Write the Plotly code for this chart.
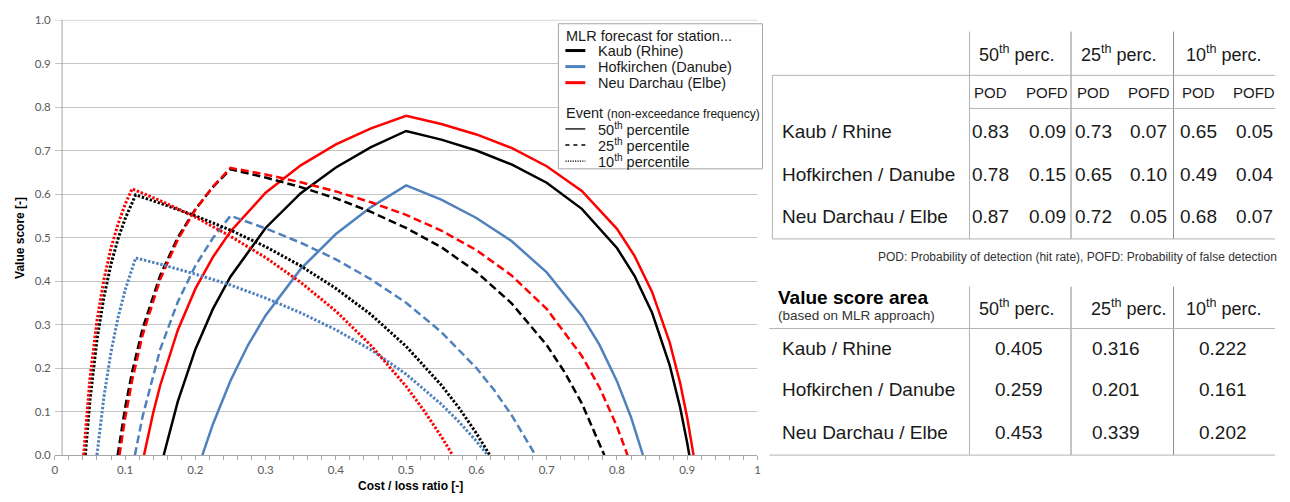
import plotly.graph_objects as go

W, H = 1290, 502          # browser window
OFF = 8                   # default page (body) margin of the html page
FW, FH = W - OFF, H - OFF # figure size so that it fits exactly in the window

# ---------------- curve data (cost/loss ratio, value score) ----------------
alpha_kaub_50 = [0.155, 0.175, 0.2, 0.225, 0.25, 0.3, 0.35, 0.4, 0.45, 0.5, 0.55, 0.6, 0.65, 0.7, 0.75, 0.8, 0.825, 0.85, 0.875, 0.89, 0.9, 0.903]
value_kaub_50 = [0.0, 0.123, 0.243, 0.336, 0.410, 0.522, 0.602, 0.661, 0.708, 0.745, 0.725, 0.700, 0.668, 0.626, 0.566, 0.476, 0.412, 0.327, 0.207, 0.109, 0.028, 0.0]

alpha_hof_50 = [0.21, 0.225, 0.25, 0.275, 0.3, 0.35, 0.4, 0.45, 0.5, 0.55, 0.6, 0.65, 0.7, 0.75, 0.775, 0.8, 0.82, 0.837]
value_hof_50 = [0.0, 0.071, 0.171, 0.253, 0.321, 0.428, 0.508, 0.570, 0.620, 0.587, 0.545, 0.492, 0.420, 0.320, 0.254, 0.170, 0.087, 0.0]

alpha_neu_50 = [0.127, 0.14, 0.15, 0.175, 0.2, 0.225, 0.25, 0.3, 0.35, 0.4, 0.45, 0.5, 0.55, 0.6, 0.65, 0.7, 0.75, 0.8, 0.825, 0.85, 0.875, 0.89, 0.9, 0.909]
value_neu_50 = [0.0, 0.097, 0.160, 0.287, 0.382, 0.455, 0.514, 0.603, 0.666, 0.714, 0.751, 0.780, 0.761, 0.737, 0.706, 0.664, 0.607, 0.520, 0.458, 0.375, 0.259, 0.165, 0.086, 0.0]

alpha_kaub_25 = [0.0895, 0.1, 0.11, 0.125, 0.15, 0.175, 0.2, 0.225, 0.25, 0.3, 0.35, 0.4, 0.45, 0.5, 0.55, 0.6, 0.65, 0.7, 0.725, 0.75, 0.782]
value_kaub_25 = [0.0, 0.108, 0.191, 0.291, 0.413, 0.500, 0.565, 0.616, 0.657, 0.638, 0.616, 0.590, 0.559, 0.522, 0.478, 0.421, 0.349, 0.253, 0.192, 0.119, 0.0]

alpha_hof_25 = [0.114, 0.125, 0.15, 0.175, 0.2, 0.225, 0.25, 0.3, 0.35, 0.4, 0.45, 0.5, 0.55, 0.6, 0.625, 0.65, 0.684]
value_hof_25 = [0.0, 0.089, 0.243, 0.352, 0.435, 0.499, 0.550, 0.521, 0.488, 0.450, 0.404, 0.350, 0.283, 0.200, 0.150, 0.092, 0.0]

alpha_neu_25 = [0.092, 0.1, 0.11, 0.125, 0.15, 0.175, 0.2, 0.225, 0.25, 0.3, 0.35, 0.4, 0.45, 0.5, 0.55, 0.6, 0.65, 0.7, 0.75, 0.775, 0.8, 0.815]
value_neu_25 = [0.0, 0.084, 0.171, 0.276, 0.404, 0.495, 0.564, 0.617, 0.660, 0.645, 0.627, 0.606, 0.581, 0.552, 0.516, 0.471, 0.413, 0.336, 0.228, 0.156, 0.066, 0.0]

alpha_kaub_10 = [0.0435, 0.05, 0.06, 0.07, 0.08, 0.09, 0.1, 0.115, 0.15, 0.2, 0.25, 0.3, 0.35, 0.4, 0.45, 0.5, 0.55, 0.575, 0.6, 0.619]
value_kaub_10 = [0.0, 0.125, 0.265, 0.364, 0.439, 0.497, 0.543, 0.598, 0.579, 0.550, 0.517, 0.479, 0.435, 0.383, 0.323, 0.250, 0.161, 0.109, 0.050, 0.0]

alpha_hof_10 = [0.06, 0.07, 0.08, 0.09, 0.1, 0.115, 0.15, 0.2, 0.25, 0.3, 0.35, 0.4, 0.45, 0.5, 0.55, 0.575, 0.6, 0.616]
value_hof_10 = [0.0, 0.135, 0.237, 0.316, 0.379, 0.453, 0.439, 0.416, 0.391, 0.361, 0.327, 0.288, 0.242, 0.186, 0.117, 0.077, 0.032, 0.0]

alpha_neu_10 = [0.041, 0.05, 0.06, 0.07, 0.08, 0.09, 0.1, 0.11, 0.15, 0.2, 0.25, 0.3, 0.35, 0.4, 0.45, 0.5, 0.525, 0.55, 0.566]
value_neu_10 = [0.0, 0.176, 0.309, 0.404, 0.476, 0.531, 0.576, 0.612, 0.585, 0.547, 0.503, 0.454, 0.397, 0.331, 0.252, 0.158, 0.103, 0.043, 0.0]

# ---------------- labels / table data ----------------
station_legend = ["Kaub (Rhine)", "Hofkirchen (Danube)", "Neu Darchau (Elbe)"]
station_rows = ["Kaub / Rhine", "Hofkirchen / Danube", "Neu Darchau / Elbe"]
percentile_nums = ["50", "25", "10"]
pod = [[0.83, 0.73, 0.65], [0.78, 0.65, 0.49], [0.87, 0.72, 0.68]]
pofd = [[0.09, 0.07, 0.05], [0.15, 0.10, 0.04], [0.09, 0.05, 0.07]]
area = [[0.405, 0.316, 0.222], [0.259, 0.201, 0.161], [0.453, 0.339, 0.202]]
x_ticks = [0, 0.1, 0.2, 0.3, 0.4, 0.5, 0.6, 0.7, 0.8, 0.9, 1.0]
x_tick_text = ["0", "0.1", "0.2", "0.3", "0.4", "0.5", "0.6", "0.7", "0.8", "0.9", "1"]
y_ticks = [0, 0.1, 0.2, 0.3, 0.4, 0.5, 0.6, 0.7, 0.8, 0.9, 1.0]
y_tick_text = ["0.0", "0.1", "0.2", "0.3", "0.4", "0.5", "0.6", "0.7", "0.8", "0.9", "1.0"]

curves = {
    "50": [(alpha_kaub_50, value_kaub_50), (alpha_hof_50, value_hof_50), (alpha_neu_50, value_neu_50)],
    "25": [(alpha_kaub_25, value_kaub_25), (alpha_hof_25, value_hof_25), (alpha_neu_25, value_neu_25)],
    "10": [(alpha_kaub_10, value_kaub_10), (alpha_hof_10, value_hof_10), (alpha_neu_10, value_neu_10)],
}

# ---------------- styles ----------------
COLORS = ["#000000", "#4F81BD", "#FF0000"]
DASH = {"50": "solid", "25": "8px,4px", "10": "2.4px,1.8px"}
LW = {"50": 2.5, "25": 2.5, "10": 3}
FONT = "Liberation Sans, Arial, sans-serif"
TICKFONT = "Lato, Carlito, sans-serif"
TXT = "#1a1a1a"
AXC = "#a6a6a6"
GRID = "#c4c4c4"


def px(x):
    return (x - OFF) / FW


def py(y):
    return 1 - (y - OFF) / FH


fig = go.Figure()
for p in ["50", "25", "10"]:
    for i, (xa, ya) in enumerate(curves[p]):
        fig.add_trace(go.Scatter(
            x=xa, y=ya, mode="lines",
            line=dict(color=COLORS[i], width=LW[p], dash=DASH[p]),
            name=f"{station_legend[i]} {p}th", showlegend=False, hoverinfo="skip"))

annotations = []
shapes = []


def text(x, y, s, size, anchor="center", bold=False, color=TXT, family=FONT, angle=0):
    if bold:
        s = f"<b>{s}</b>"
    annotations.append(dict(x=px(x), y=py(y), xref="paper", yref="paper", text=s, showarrow=False,
                            xanchor=anchor, yanchor="middle", textangle=angle,
                            font=dict(family=family, size=size, color=color)))


def hline(x0, x1, y, color="#b4b4b4", width=1, dash="solid"):
    shapes.append(dict(type="line", xref="paper", yref="paper", x0=px(x0), x1=px(x1), y0=py(y), y1=py(y),
                       line=dict(color=color, width=width, dash=dash), layer="above"))


def vline(x, y0, y1, color="#b4b4b4", width=1):
    shapes.append(dict(type="line", xref="paper", yref="paper", x0=px(x), x1=px(x), y0=py(y0), y1=py(y1),
                       line=dict(color=color, width=width), layer="above"))


# y axis line (drawn slightly right of x=0, as in the original)
vline(59.3, 13, 460, color=AXC)
# top gridline of the value axis (at 1.0)
shapes.append(dict(type="line", xref="x", yref="y", x0=0, x1=1, y0=y_ticks[-1], y1=y_ticks[-1],
                   line=dict(color=GRID, width=1), layer="below"))

# axis titles
text(17, 237, "Value score [-]", 12, bold=True, color="#000", angle=-90)
text(409, 492, "Cost / loss ratio [-]", 12, bold=True, color="#000")

# ---------------- legend box ----------------
shapes.append(dict(type="rect", xref="paper", yref="paper", x0=px(558), x1=px(763), y0=py(166), y1=py(17),
                   line=dict(color="#a6a6a6", width=1), fillcolor="white", layer="above"))
text(564, 30, "MLR forecast for station...", 14.5, anchor="left")
for i, name in enumerate(station_legend):
    yy = 44.5 + i * 16.5
    hline(565, 585, yy, color=COLORS[i], width=3)
    text(596, yy, name, 14.5, anchor="left")
text(564, 109, "Event", 14.5, anchor="left")
text(605, 110, "(non-exceedance frequency)", 12, anchor="left")
for j, p in enumerate(percentile_nums):
    yy = 125 + j * 16.5
    hline(565, 585, yy, color="#000", width=1.3, dash={"50": "solid", "25": "4px,4px", "10": "1.2px,1.2px"}[p])
    text(596, yy, f"{p}<sup>th</sup> percentile", 14.5, anchor="left")

# ---------------- top table: POD / POFD ----------------
VL = ["#b4b4b4", "#8c8c8c", "#8c8c8c"]
for k, xv in enumerate([971, 1073, 1176]):
    vline(xv, 25, 238, color=VL[k])
vline(773, 70, 238)
hline(773, 1278, 70)
hline(971, 1278, 104)
hline(773, 1278, 238)
group_centers = [1019, 1121, 1227]
pod_x = [992, 1096, 1201]
pofd_x = [1049, 1151, 1257]
for j, p in enumerate(percentile_nums):
    text(group_centers[j], 48, f"{p}<sup>th</sup> perc.", 18)
    text(pod_x[j], 88, "POD", 15)
    text(pofd_x[j], 88, "POFD", 15)
row_y = [128, 172, 215]
for i, st in enumerate(station_rows):
    text(781, row_y[i], st, 19, anchor="left")
    for j in range(3):
        text(pod_x[j], row_y[i], f"{pod[i][j]:.2f}", 19)
        text(pofd_x[j], row_y[i], f"{pofd[i][j]:.2f}", 19)
text(1282, 257, "POD: Probability of detection (hit rate), POFD: Probability of false detection", 12,
     anchor="right", color="#333")

# ---------------- bottom table: value score area ----------------
for k, xv in enumerate([971, 1073, 1176]):
    vline(xv, 287, 460, color=VL[k])
hline(770, 1278, 330)
hline(770, 1278, 460)
text(777, 298, "Value score area", 19, anchor="left", bold=True, color="#000")
text(777, 317, "(based on MLR approach)", 13.5, anchor="left", color="#333")
area_hdr_x = [1019, 1131, 1227]
area_x = [1021, 1118, 1226]
for j, p in enumerate(percentile_nums):
    text(area_hdr_x[j], 308, f"{p}<sup>th</sup> perc.", 18)
area_row_y = [350, 393, 437]
for i, st in enumerate(station_rows):
    text(781, area_row_y[i], st, 19, anchor="left")
    for j in range(3):
        text(area_x[j], area_row_y[i], f"{area[i][j]:.3f}", 19)

fig.update_layout(
    width=FW, height=FH, margin=dict(l=0, r=0, t=0, b=0),
    paper_bgcolor="white", plot_bgcolor="white", showlegend=False,
    xaxis=dict(domain=[px(52), px(758)], range=[0, 1], tickvals=x_ticks, ticktext=x_tick_text,
               ticks="outside", ticklen=4, tickcolor=AXC, showline=True, linecolor=AXC, linewidth=1,
               showgrid=False, zeroline=False,
               minor=dict(dtick=0.02, ticks="outside", ticklen=4, tickcolor=AXC, showgrid=False),
               tickfont=dict(family=TICKFONT, size=11.5, color="#595959"), fixedrange=True),
    yaxis=dict(domain=[py(460), py(13)], range=[0, 1.0003], tickvals=y_ticks, ticktext=y_tick_text,
               ticks="", showline=False, showgrid=True, gridcolor=GRID, gridwidth=1,
               zeroline=False, ticklabelstandoff=3, ticklabeloverflow="allow",
               tickfont=dict(family=TICKFONT, size=11.5, color="#595959"), fixedrange=True),
    annotations=annotations, shapes=shapes,
)

fig.write_html("out.html")
